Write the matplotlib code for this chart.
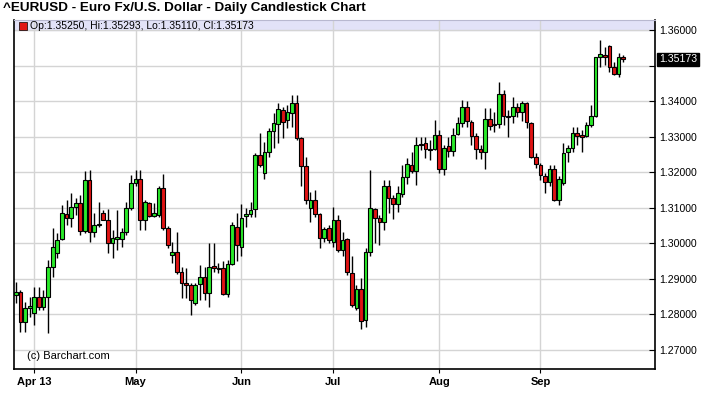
import matplotlib
matplotlib.use("Agg")
import matplotlib.pyplot as plt
import pandas as pd

plt.rcParams['font.family'] = ['Liberation Sans', 'DejaVu Sans']

# daily EURUSD candles, 26 Mar 2013 - 26 Sep 2013
opens = [1.2854, 1.2863, 1.2780, 1.2818, 1.2804, 1.2850, 1.2822, 1.2848, 1.2934, 1.2972,
         1.3011, 1.3082, 1.3072, 1.3101, 1.3113, 1.3036, 1.3178, 1.3031, 1.3052, 1.3084,
         1.3067, 1.3000, 1.3013, 1.3011, 1.3033, 1.3098, 1.3169, 1.3180, 1.3066, 1.3113,
         1.3077, 1.3080, 1.3155, 1.3042, 1.2967, 1.2975, 1.2920, 1.2888, 1.2883, 1.2832,
         1.2886, 1.2906, 1.2859, 1.2936, 1.2932, 1.2930, 1.2857, 1.2942, 1.3047, 1.2991,
         1.3077, 1.3082, 1.3096, 1.3248, 1.3197, 1.3258, 1.3316, 1.3337, 1.3375, 1.3347,
         1.3366, 1.3394, 1.3295, 1.3217, 1.3098, 1.3122, 1.3082, 1.3014, 1.3042, 1.3005,
         1.3066, 1.2981, 1.3011, 1.2916, 1.2818, 1.2871, 1.2785, 1.2977, 1.3097, 1.3071,
         1.3061, 1.3162, 1.3127, 1.3111, 1.3138, 1.3186, 1.3221, 1.3204, 1.3277, 1.3283,
         1.3265, 1.3264, 1.3305, 1.3208, 1.3274, 1.3261, 1.3308, 1.3338, 1.3383, 1.3342,
         1.3302, 1.3265, 1.3258, 1.3349, 1.3333, 1.3336, 1.3420, 1.3358, 1.3358, 1.3384,
         1.3368, 1.3396, 1.3339, 1.3242, 1.3220, 1.3190, 1.3172, 1.3208, 1.3122, 1.3169,
         1.3256, 1.3267, 1.3311, 1.3302, 1.3302, 1.3333, 1.3359, 1.3523, 1.3528, 1.3555,
         1.3497, 1.3476, 1.35250]
highs = [1.2892, 1.2869, 1.2836, 1.2850, 1.2878, 1.2878, 1.2869, 1.2953, 1.3042, 1.3028,
         1.3108, 1.3122, 1.3141, 1.3127, 1.3136, 1.3204, 1.3206, 1.3085, 1.3117, 1.3094,
         1.3096, 1.3038, 1.3094, 1.3042, 1.3117, 1.3192, 1.3206, 1.3206, 1.3122, 1.3117,
         1.3113, 1.3160, 1.3195, 1.3050, 1.3005, 1.3033, 1.2934, 1.2930, 1.2888, 1.2888,
         1.2939, 1.2934, 1.3002, 1.3000, 1.2944, 1.2949, 1.2953, 1.3061, 1.3085, 1.3111,
         1.3098, 1.3117, 1.3253, 1.3309, 1.3286, 1.3323, 1.3366, 1.3394, 1.3384, 1.3389,
         1.3417, 1.3417, 1.3300, 1.3244, 1.3145, 1.3150, 1.3084, 1.3047, 1.3052, 1.3103,
         1.3080, 1.3033, 1.3014, 1.2963, 1.2883, 1.2902, 1.2986, 1.3206, 1.3099, 1.3080,
         1.3178, 1.3178, 1.3136, 1.3160, 1.3221, 1.3239, 1.3258, 1.3300, 1.3298, 1.3298,
         1.3290, 1.3347, 1.3319, 1.3277, 1.3300, 1.3323, 1.3356, 1.3403, 1.3401, 1.3347,
         1.3310, 1.3277, 1.3380, 1.3380, 1.3370, 1.3455, 1.3431, 1.3375, 1.3411, 1.3394,
         1.3401, 1.3398, 1.3342, 1.3253, 1.3225, 1.3197, 1.3220, 1.3220, 1.3188, 1.3281,
         1.3277, 1.3328, 1.3328, 1.3319, 1.3342, 1.3389, 1.3525, 1.3572, 1.3553, 1.3558,
         1.3511, 1.3534, 1.35293]
lows = [1.2831, 1.2752, 1.2752, 1.2794, 1.2770, 1.2813, 1.2813, 1.2749, 1.2906, 1.2958,
        1.3010, 1.3052, 1.3047, 1.3080, 1.3024, 1.3028, 1.3005, 1.3019, 1.3047, 1.3066,
        1.2972, 1.2958, 1.2981, 1.2991, 1.3024, 1.3094, 1.3160, 1.3038, 1.3038, 1.3075,
        1.3075, 1.3075, 1.3038, 1.2986, 1.2944, 1.2915, 1.2845, 1.2845, 1.2799, 1.2827,
        1.2841, 1.2841, 1.2822, 1.2919, 1.2916, 1.2855, 1.2850, 1.2939, 1.2949, 1.2963,
        1.3047, 1.3075, 1.3075, 1.3216, 1.3180, 1.3244, 1.3267, 1.3281, 1.3295, 1.3323,
        1.3328, 1.3291, 1.3161, 1.3112, 1.3061, 1.3075, 1.2986, 1.3005, 1.3000, 1.2991,
        1.2977, 1.2963, 1.2911, 1.2822, 1.2813, 1.2758, 1.2766, 1.2963, 1.3000, 1.2995,
        1.3038, 1.3085, 1.3068, 1.3089, 1.3131, 1.3167, 1.3197, 1.3164, 1.3262, 1.3239,
        1.3235, 1.3262, 1.3197, 1.3192, 1.3244, 1.3246, 1.3305, 1.3328, 1.3328, 1.3277,
        1.3236, 1.3236, 1.3208, 1.3319, 1.3312, 1.3323, 1.3333, 1.3300, 1.3338, 1.3356,
        1.3345, 1.3323, 1.3239, 1.3211, 1.3178, 1.3141, 1.3160, 1.3120, 1.3108, 1.3164,
        1.3230, 1.3258, 1.3277, 1.3258, 1.3300, 1.3328, 1.3354, 1.3497, 1.3502, 1.3483,
        1.3474, 1.3469, 1.35110]
closes = [1.2862, 1.2780, 1.2817, 1.2824, 1.2850, 1.2822, 1.2850, 1.2934, 1.2991, 1.3009,
          1.3084, 1.3070, 1.3101, 1.3113, 1.3036, 1.3178, 1.3033, 1.3052, 1.3055, 1.3067,
          1.3000, 1.3016, 1.3019, 1.3033, 1.3098, 1.3169, 1.3180, 1.3066, 1.3117, 1.3077,
          1.3084, 1.3155, 1.3042, 1.2996, 1.2975, 1.2920, 1.2888, 1.2883, 1.2841, 1.2883,
          1.2906, 1.2859, 1.2934, 1.2930, 1.2927, 1.2857, 1.2942, 1.3052, 1.2995, 1.3070,
          1.3082, 1.3094, 1.3248, 1.3220, 1.3258, 1.3316, 1.3339, 1.3377, 1.3342, 1.3370,
          1.3394, 1.3295, 1.3217, 1.3122, 1.3122, 1.3082, 1.3014, 1.3039, 1.3009, 1.3066,
          1.2981, 1.3009, 1.2918, 1.2827, 1.2871, 1.2782, 1.2977, 1.3099, 1.3071, 1.3061,
          1.3162, 1.3127, 1.3111, 1.3141, 1.3186, 1.3223, 1.3204, 1.3277, 1.3280, 1.3264,
          1.3263, 1.3305, 1.3208, 1.3267, 1.3261, 1.3305, 1.3338, 1.3383, 1.3345, 1.3302,
          1.3265, 1.3258, 1.3349, 1.3330, 1.3336, 1.3420, 1.3358, 1.3355, 1.3384, 1.3368,
          1.3394, 1.3342, 1.3244, 1.3223, 1.3192, 1.3172, 1.3208, 1.3122, 1.3180, 1.3255,
          1.3267, 1.3311, 1.3302, 1.3300, 1.3333, 1.3359, 1.3523, 1.3532, 1.3525, 1.3497,
          1.3476, 1.3525, 1.35173]

dates = pd.bdate_range('2013-03-26', periods=len(closes))
price_ticks = [1.27, 1.28, 1.29, 1.30, 1.31, 1.32, 1.33, 1.34, 1.35, 1.36]

fig = plt.figure(figsize=(7.08, 3.93), dpi=100)
ax = fig.add_axes([14 / 708, 24 / 393, 641 / 708, 349 / 393])

x = list(range(len(closes)))
green = '#2aea2a'
red = '#e01414'
cols = [green if c >= o else red for o, c in zip(opens, closes)]
bottoms = [min(o, c) for o, c in zip(opens, closes)]
heights = [max(abs(c - o), 0.00035) for o, c in zip(opens, closes)]

# wicks then bodies
ax.vlines(x, lows, highs, color='black', linewidth=1, zorder=3)
ax.bar(x, heights, bottom=bottoms, width=0.8, color=cols, edgecolor='black',
       linewidth=0.8, zorder=4)

ax.set_xlim(-0.41, 138.9)
ax.set_ylim(1.26466, 1.36281)

# month ticks at first trading day of each month
s = pd.Series(range(len(dates)), index=dates)
firsts = s.groupby([dates.year, dates.month]).first()
mpos = [p for p in firsts.values if p > 0]
mlab = [dates[p].strftime('%b') for p in mpos]
mlab[0] = mlab[0] + ' 13'
ax.set_xticks(mpos)
ax.set_xticklabels(mlab, fontweight='bold', fontsize=8)
ax.tick_params(axis='x', direction='out', length=3, pad=3)

ax.yaxis.tick_right()
ax.set_yticks(price_ticks)
ax.set_yticklabels(['' if abs(t - 1.35) < 1e-9 else '%.5f' % t for t in price_ticks],
                   fontsize=7.6)
ax.tick_params(axis='y', direction='in', length=4, pad=3)

ax.grid(True, color='#d4d4d4', linewidth=1)
ax.set_axisbelow(True)
ax.axhspan(1.36, 1.36281, color='#e2e2f8', zorder=0.5)

for sp in ['left', 'bottom', 'right']:
    ax.spines[sp].set_linewidth(1.2)
ax.spines['top'].set_color('#b8b8d0')

# last price box
ax.text(1.006, closes[-1], '%.5f' % closes[-1], transform=ax.get_yaxis_transform(),
        color='white', fontsize=7.6, va='center', ha='left',
        bbox=dict(facecolor='black', edgecolor='black', pad=1.2))

# OHLC line in the top band
ax.plot([0.0133], [0.983], marker='s', markersize=5.5, color=red, markeredgecolor='black',
        markeredgewidth=0.5, transform=ax.transAxes, clip_on=False)
ax.text(0.025, 0.983, 'Op:%.5f, Hi:%.5f, Lo:%.5f, Cl:%.5f'
        % (opens[-1], highs[-1], lows[-1], closes[-1]),
        transform=ax.transAxes, fontsize=7.5, va='center', ha='left')

ax.text(0.02, 0.036, '(c) Barchart.com', transform=ax.transAxes, fontsize=8,
        va='center', ha='left')

fig.text(3 / 708, 1 - 7.5 / 393, '^EURUSD - Euro Fx/U.S. Dollar - Daily Candlestick Chart',
         fontsize=9.7, fontweight='bold', va='center', ha='left')

fig.savefig('out.png', dpi=100)
